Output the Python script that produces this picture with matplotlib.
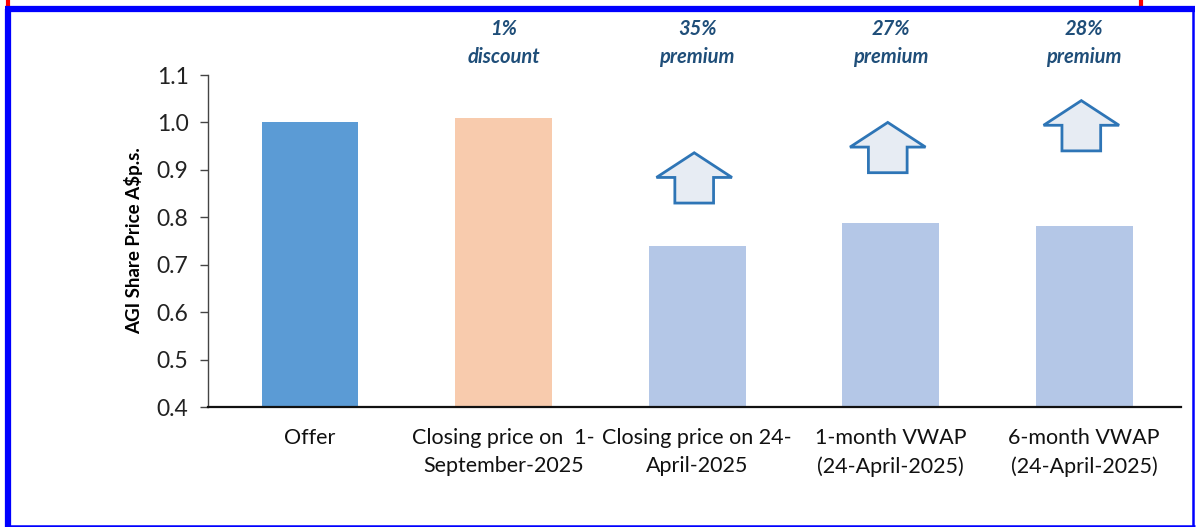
from __future__ import annotations

import matplotlib

matplotlib.use("Agg")
import matplotlib.pyplot as plt
from matplotlib.lines import Line2D
from matplotlib.patches import Polygon
from matplotlib.transforms import blended_transform_factory


# chart data
categories = [
    "Offer",
    "Closing price on  1-\nSeptember-2025",
    "Closing price on 24-\nApril-2025",
    "1-month VWAP\n(24-April-2025)",
    "6-month VWAP\n(24-April-2025)",
]
prices = [1.00, 1.01, 0.74, 0.787, 0.781]
notes = ["", "1%\ndiscount", "35%\npremium", "27%\npremium", "28%\npremium"]
y_ticks = [0.4, 0.5, 0.6, 0.7, 0.8, 0.9, 1.0, 1.1]

# layout / style
bar_colors = ["#5B9BD5", "#F8CBAD", "#B4C7E7", "#B4C7E7", "#B4C7E7"]
arrow_bars = [2, 3, 4]
arrow_base = [0.830, 0.894, 0.940]
NOTE_COLOR = "#1F4E79"
FONT = ["Lato", "DejaVu Sans"]

plt.rcParams["font.family"] = FONT

W, H = 1196, 527
fig = plt.figure(figsize=(W / 100, H / 100), dpi=100)
ax = fig.add_axes([208 / W, 1 - 407 / H, (1181 - 208) / W, (407 - 75) / H])

x = list(range(len(categories)))
ax.bar(x, [p - 0.4 for p in prices], bottom=0.4, width=0.5, color=bar_colors, zorder=2)

ax.set_xlim(-0.527, 4.5)
ax.set_ylim(0.4, 1.1)
ax.set_yticks(y_ticks)
ax.set_yticklabels([f"{t:.1f}" for t in y_ticks], fontsize=16.5, color="#222222")
ax.set_xticks(x)
ax.set_xticklabels(categories, fontsize=15.5, color="#111111", linespacing=1.5)
ax.tick_params(axis="x", length=0, pad=15)
ax.tick_params(axis="y", length=6, width=1, color="#444444", pad=8)
for side in ("top", "right"):
    ax.spines[side].set_visible(False)
ax.spines["left"].set_color("#444444")
ax.spines["left"].set_linewidth(1)
ax.spines["bottom"].set_color("#111111")
ax.spines["bottom"].set_linewidth(1.6)
ax.set_ylabel("AGI Share Price A\\$p.s.", fontsize=13.5, fontweight="bold", labelpad=10)

# percentage notes above the chart
trans = blended_transform_factory(ax.transData, fig.transFigure)
for xi, note in zip(x, notes):
    if note:
        ax.text(xi, 1 - 43 / H, note, transform=trans, ha="center", va="center",
                fontsize=14.5, fontweight="bold", fontstyle="italic",
                color=NOTE_COLOR, linespacing=1.45)

# block arrows showing premium
head_w, shaft_w, shaft_h, head_h = 0.39, 0.2, 0.054, 0.052
for bi, base in zip(arrow_bars, arrow_base):
    cx = x[bi] - 0.015
    pts = [
        (cx - shaft_w / 2, base),
        (cx + shaft_w / 2, base),
        (cx + shaft_w / 2, base + shaft_h),
        (cx + head_w / 2, base + shaft_h),
        (cx, base + shaft_h + head_h),
        (cx - head_w / 2, base + shaft_h),
        (cx - shaft_w / 2, base + shaft_h),
    ]
    ax.add_patch(Polygon(pts, closed=True, facecolor="#E7ECF3", edgecolor="#2E75B6",
                         linewidth=2, joinstyle="miter", zorder=3, clip_on=False))


# frame around the picture
def frame_line(x0, y0, x1, y1, color, lw):
    fig.add_artist(Line2D([x0 / W, x1 / W], [1 - y0 / H, 1 - y1 / H], color=color,
                          linewidth=lw, solid_capstyle="butt", transform=fig.transFigure))


frame_line(8, 0, 8, 7, "#FF0000", 3)
frame_line(1141, 0, 1141, 7, "#FF0000", 3)
frame_line(8, 9, 8, 527, "#0000FF", 4.5)
frame_line(5, 9, 1195, 9, "#0000FF", 4.5)
frame_line(1193, 6, 1193, 527, "#0000FF", 1.8)
frame_line(5, 525.5, 1195, 525.5, "#0000FF", 1.8)

fig.savefig("out.png", dpi=100)
plt.close(fig)
